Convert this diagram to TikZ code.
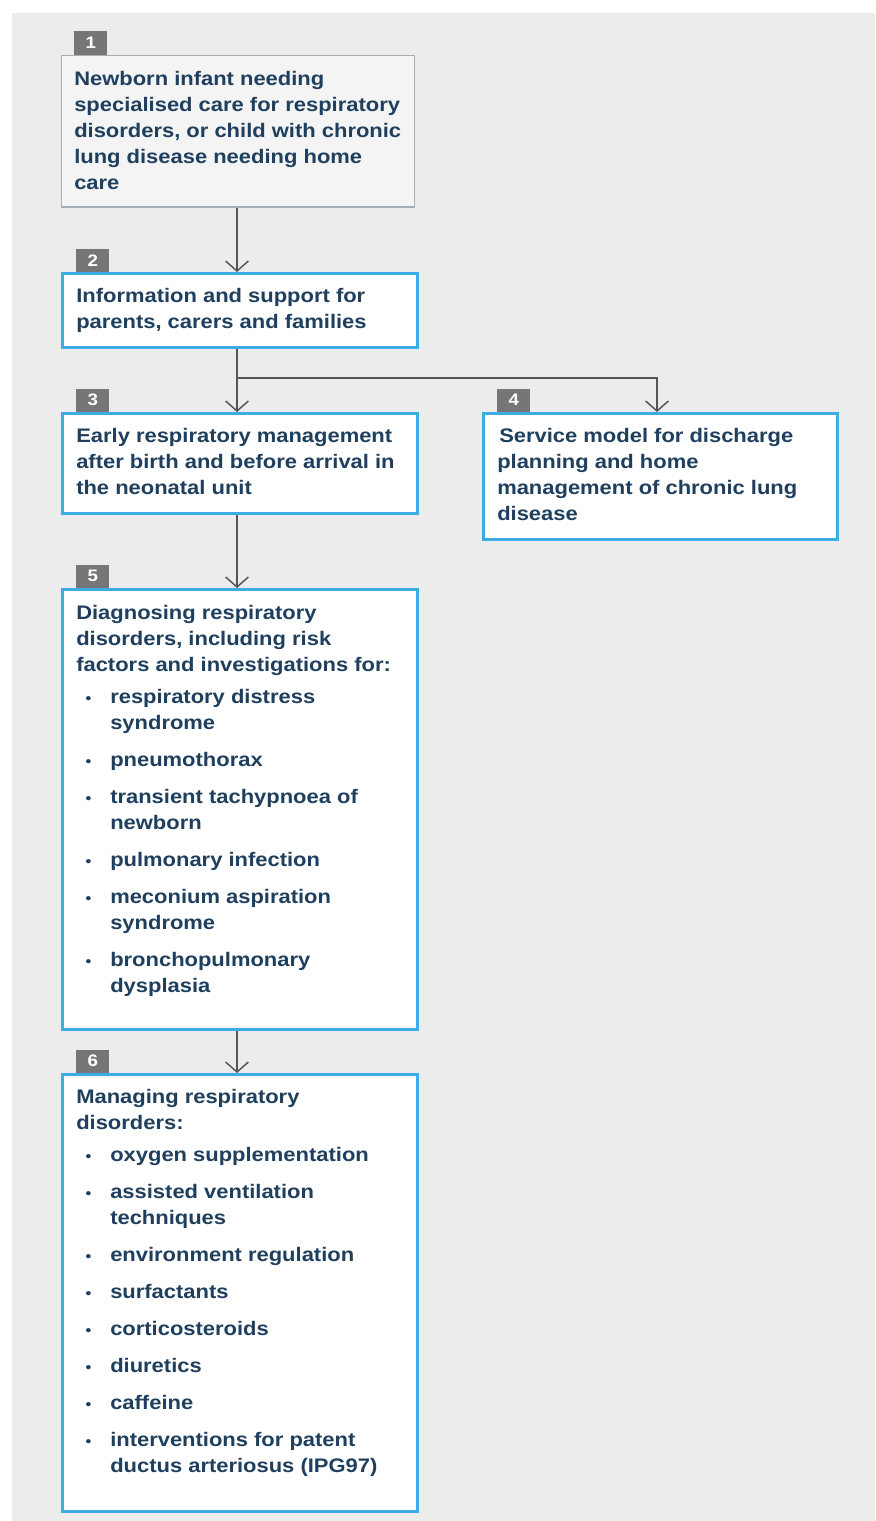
\documentclass[tikz,border=0pt]{standalone}
\usepackage{fontspec}
\setmainfont{Liberation Sans}[FakeStretch=1.12]
\usetikzlibrary{arrows.meta}
\definecolor{bgc}{HTML}{ECECEC}
\definecolor{txtc}{HTML}{1F3F5E}
\definecolor{blueb}{HTML}{3AAEE3}
\definecolor{tabc}{HTML}{767676}
\definecolor{boxonef}{HTML}{F4F4F4}
\definecolor{boxoned}{HTML}{A5AEB4}
\definecolor{connc}{HTML}{555555}
\newcommand\bt[1]{\hspace*{7pt}\makebox[18.5pt][l]{\fontsize{11pt}{11pt}\selectfont •}#1}
\newcommand\bc[1]{\hspace*{25.5pt}#1}
\newcommand\ig{\\[8.25pt]}
\newcommand\hg{\\[4.5pt]}
\tikzset{
  bluebox/.style={draw=blueb, line width=2.25pt, fill=white, inner sep=0pt, anchor=north west},
  greybox/.style={draw=boxoned, line width=1.1pt, fill=boxonef, inner sep=0pt, anchor=north west},
  tabbox/.style={fill=tabc, text=white, inner sep=0pt, minimum width=24.75pt, minimum height=17.25pt,
     anchor=south west, font=\fontsize{12.5pt}{12.5pt}\selectfont\bfseries},
  txtnode/.style={inner sep=0pt, anchor=base west, text=txtc, font=\fontsize{14.7pt}{19.5pt}\selectfont\bfseries},
  conn/.style={draw=connc, line width=1.1pt, -{Straight Barb[length=7.5pt,width=17pt]}},
  link/.style={draw=connc, line width=1.1pt}
}
\begin{document}
\begin{tikzpicture}[x=0.75pt,y=-0.75pt]
\useasboundingbox (0,0) rectangle (875,1521);
\fill[bgc] (12,13) rectangle (875,1521);

% boxes (anchors at outer edges)
\node[greybox, minimum width=264.4pt, minimum height=113.6pt] (b1) at (61,55) {};
\node[bluebox, minimum width=266.25pt, minimum height=55.5pt] (b2) at (61,272) {};
\node[bluebox, minimum width=266.25pt, minimum height=75pt] (b3) at (61,412) {};
\node[bluebox, minimum width=265.5pt, minimum height=94.5pt] (b4) at (482,412) {};
\node[bluebox, minimum width=266.25pt, minimum height=330pt] (b5) at (61,588) {};
\node[bluebox, minimum width=266.25pt, minimum height=327.75pt] (b6) at (61,1073) {};

% tabs
\node[tabbox, minimum height=18pt] (n1) at (74,55) {1};
\node[tabbox] (n2) at (76,272) {2};
\node[tabbox] (n3) at (76,412) {3};
\node[tabbox] (n4) at (497,412) {4};
\node[tabbox] (n5) at (76,588) {5};
\node[tabbox] (n6) at (76,1073) {6};

% texts
\node[txtnode] (t1) at (74,85) {\begin{minipage}[t]{300pt}\raggedright
Newborn infant needing\\
specialised care for respiratory\\
disorders, or child with chronic\\
lung disease needing home\\
care\end{minipage}};
\node[txtnode] (t2) at (76,302) {\begin{minipage}[t]{300pt}\raggedright
Information and support for\\
parents, carers and families\end{minipage}};
\node[txtnode] (t3) at (76,442) {\begin{minipage}[t]{300pt}\raggedright
Early respiratory management\\
after birth and before arrival in\\
the neonatal unit\end{minipage}};
\node[txtnode] (t4) at (497,442) {\begin{minipage}[t]{300pt}\raggedright
\hspace*{1.5pt}Service model for discharge\\
planning and home\\
management of chronic lung\\
disease\end{minipage}};
\node[txtnode] (t5) at (76,619) {\begin{minipage}[t]{300pt}\raggedright
Diagnosing respiratory\\
disorders, including risk\\
factors and investigations for:\hg
\bt{respiratory distress}\\
\bc{syndrome}\ig
\bt{pneumothorax}\ig
\bt{transient tachypnoea of}\\
\bc{newborn}\ig
\bt{pulmonary infection}\ig
\bt{meconium aspiration}\\
\bc{syndrome}\ig
\bt{bronchopulmonary}\\
\bc{dysplasia}\end{minipage}};
\node[txtnode] (t6) at (76,1103) {\begin{minipage}[t]{300pt}\raggedright
Managing respiratory\\
disorders:\hg
\bt{oxygen supplementation}\ig
\bt{assisted ventilation}\\
\bc{techniques}\ig
\bt{environment regulation}\ig
\bt{surfactants}\ig
\bt{corticosteroids}\ig
\bt{diuretics}\ig
\bt{caffeine}\ig
\bt{interventions for patent}\\
\bc{ductus arteriosus (IPG97)}\end{minipage}};

% connectors
\coordinate (ax) at (237,0);
\coordinate (bx) at (657,0);
\coordinate (br) at (237,378);
\draw[conn] (b1.south -| ax) -- (b2.north -| ax);
\draw[conn] (b2.south -| ax) -- (b3.north -| ax);
\draw[conn] (br) -| (b4.north -| bx);
\draw[conn] (b3.south -| ax) -- (b5.north -| ax);
\draw[conn] (b5.south -| ax) -- (b6.north -| ax);
\end{tikzpicture}
\end{document}
